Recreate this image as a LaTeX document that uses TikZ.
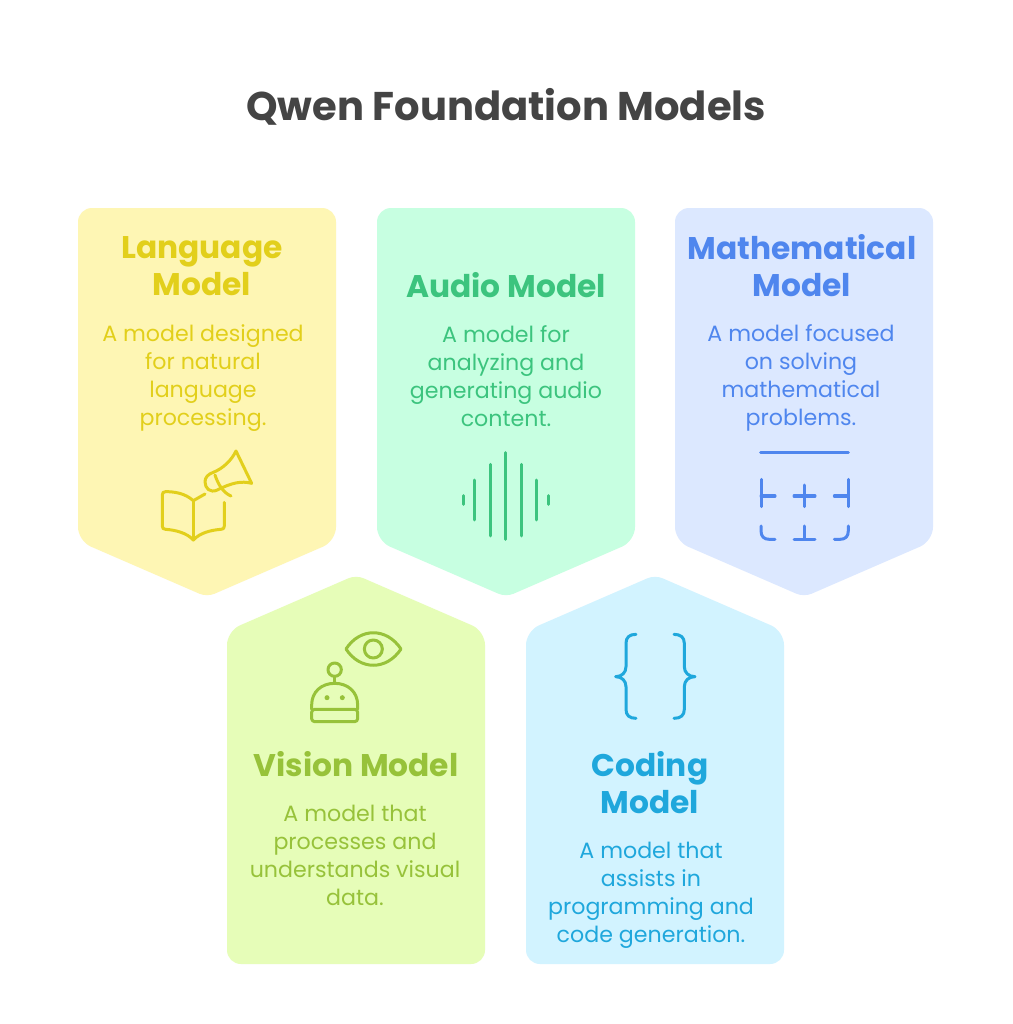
\documentclass[tikz,border=0pt]{standalone}
\usepackage{fontspec}
\setmainfont{Poppins}
\definecolor{qwentitle}{RGB}{68,68,68}
\definecolor{qwenyellow}{RGB}{226,207,27}
\definecolor{qwenyellowbg}{RGB}{254,246,180}
\definecolor{qwengreen}{RGB}{60,196,126}
\definecolor{qwengreenbg}{RGB}{199,255,225}
\definecolor{qwenblue}{RGB}{79,134,238}
\definecolor{qwenbluebg}{RGB}{220,232,255}
\definecolor{qwenlime}{RGB}{151,194,58}
\definecolor{qwenlimebg}{RGB}{230,253,184}
\definecolor{qwencyan}{RGB}{31,167,220}
\definecolor{qwencyanbg}{RGB}{210,243,255}
\begin{document}
\begin{tikzpicture}[
    x=1mm, y=-1mm,
    % Define styles
    card/.style={rounded corners=14mm},
    title/.style={font=\fontsize{114}{125}\selectfont\bfseries, text=qwentitle, inner sep=0pt},
    heading/.style={font=\fontsize{89}{105}\selectfont\bfseries, align=center, inner sep=0pt},
    body/.style={font=\fontsize{63}{79.7}\selectfont, align=center, inner sep=0pt},
    icon/.style={line width=3mm, line cap=round, line join=round},
    zoomed/.style={x=0.3333mm, y=-0.3333mm}
]
\useasboundingbox (0,0) rectangle (1012,1024);
\fill[white] (0,0) rectangle (1012,1024);

% Title
\node[title] (qwen) at (506,107) {Qwen Foundation Models};

% Cards pointing down
\fill[card, qwenyellowbg] (207,208) -- (336,208) -- (336,541) [rounded corners=8mm] -- (207,597) [rounded corners=14mm] -- (78,541) -- (78,208) -- cycle;
\fill[card, qwengreenbg] (506,208) -- (635,208) -- (635,541) [rounded corners=8mm] -- (506,597) [rounded corners=14mm] -- (377,541) -- (377,208) -- cycle;
\fill[card, qwenbluebg] (804,208) -- (933,208) -- (933,541) [rounded corners=8mm] -- (804,597) [rounded corners=14mm] -- (675,541) -- (675,208) -- cycle;

% Cards pointing up
\fill[card, qwenlimebg] (356,964) -- (485,964) -- (485,631) [rounded corners=8mm] -- (356,575) [rounded corners=14mm] -- (227,631) -- (227,964) -- cycle;
\fill[card, qwencyanbg] (655,964) -- (784,964) -- (784,631) [rounded corners=8mm] -- (655,575) [rounded corners=14mm] -- (526,631) -- (526,964) -- cycle;

% Language model
\node[heading, text=qwenyellow] (langhead) at (202,266) {Language\\Model};
\node[body, text=qwenyellow] (langbody) at (203,378) {A model designed\\for natural\\language\\processing.};
\begin{scope}[shift={(130,440)}, zoomed, icon, draw=qwenyellow]
\draw (190,182) .. controls (165,160) and (135,155) .. (107,155) .. controls (100,155) and (97,158) .. (97,165) -- (97,258) .. controls (97,265) and (100,268) .. (107,268) .. controls (135,270) and (170,278) .. (190,300);
\draw (190,182) -- (190,300);
\draw (190,182) -- (225,162);
\draw (190,300) .. controls (210,278) and (245,270) .. (273,268) .. controls (280,268) and (283,265) .. (283,258) -- (283,187);
\draw (250,97) .. controls (280,85) and (305,60) .. (318,33) -- (365,130) .. controls (335,122) and (305,128) .. (262,150) .. controls (240,160) and (225,145) .. (225,125) .. controls (225,112) and (235,102) .. (250,97);
\draw (255,105) .. controls (265,135) and (280,158) .. (303,168);
\end{scope}

% Audio model
\node[heading, text=qwengreen] (audiohead) at (506,285) {Audio Model};
\node[body, text=qwengreen] (audiobody) at (506,376) {A model for\\analyzing and\\generating audio\\content.};
\begin{scope}[shift={(450,440)}, zoomed, icon, draw=qwengreen]
\foreach \barx/\bartop/\barbottom in {39/167/193, 74/120/240, 120/73/288, 167/38/298, 214/73/288, 260/120/240, 296/167/193}
    \draw (\barx,\bartop) -- (\barx,\barbottom);
\end{scope}

% Mathematical model
\node[heading, text=qwenblue] (mathhead) at (802,266) {Mathematical\\Model};
\node[body, text=qwenblue] (mathbody) at (801,378) {A model focused\\on solving\\mathematical\\problems.};
\begin{scope}[shift={(740,440)}, zoomed, icon, draw=qwenblue]
\draw (62,38) -- (325,38);
\draw (63,118) -- (63,200);
\draw (63,168) -- (105,168);
\draw (162,168) -- (225,168);
\draw (193,135) -- (193,200);
\draw (325,118) -- (325,200);
\draw (283,168) -- (325,168);
\draw (63,258) -- (63,272) .. controls (63,290) and (72,298) .. (88,298) -- (105,298);
\draw (193,258) -- (193,298);
\draw (162,298) -- (225,298);
\draw (325,258) -- (325,272) .. controls (325,290) and (316,298) .. (300,298) -- (283,298);
\end{scope}

% Vision model
\begin{scope}[shift={(290,620)}, zoomed, icon, draw=qwenlime]
\draw (168,87) .. controls (210,22) and (290,22) .. (333,87) .. controls (290,152) and (210,152) .. (168,87) -- cycle;
\draw (250,87) circle[radius=27];
\draw (134,149) circle[radius=20];
\draw (134,170) -- (134,190);
\draw (65,268) -- (65,255) .. controls (65,215) and (95,190) .. (134,190) .. controls (173,190) and (203,215) .. (203,255) -- (203,268);
\draw[rounded corners=3mm] (65,268) -- (203,268) -- (203,305) -- (65,305) -- cycle;
\fill[qwenlime] (111,233) circle[radius=7.5] (157,233) circle[radius=7.5];
\end{scope}
\node[heading, text=qwenlime] (visionhead) at (356,764) {Vision Model};
\node[body, text=qwenlime] (visionbody) at (355,855) {A model that\\processes and\\understands visual\\data.};

% Coding model
\begin{scope}[shift={(600,620)}, zoomed, icon, draw=qwencyan]
\draw (108,43) .. controls (88,43) and (78,52) .. (78,70) -- (78,140) .. controls (78,158) and (65,170) .. (47,170) .. controls (65,170) and (78,182) .. (78,200) -- (78,268) .. controls (78,286) and (88,295) .. (108,295);
\draw (222,43) .. controls (242,43) and (253,52) .. (253,70) -- (253,140) .. controls (253,158) and (266,170) .. (285,170) .. controls (266,170) and (253,182) .. (253,200) -- (253,268) .. controls (253,286) and (242,295) .. (222,295);
\end{scope}
\node[heading, text=qwencyan] (codehead) at (650,783) {Coding\\Model};
\node[body, text=qwencyan] (codebody) at (651,895) {A model that\\assists in\\programming and\\code generation.};

\end{tikzpicture}
\end{document}
